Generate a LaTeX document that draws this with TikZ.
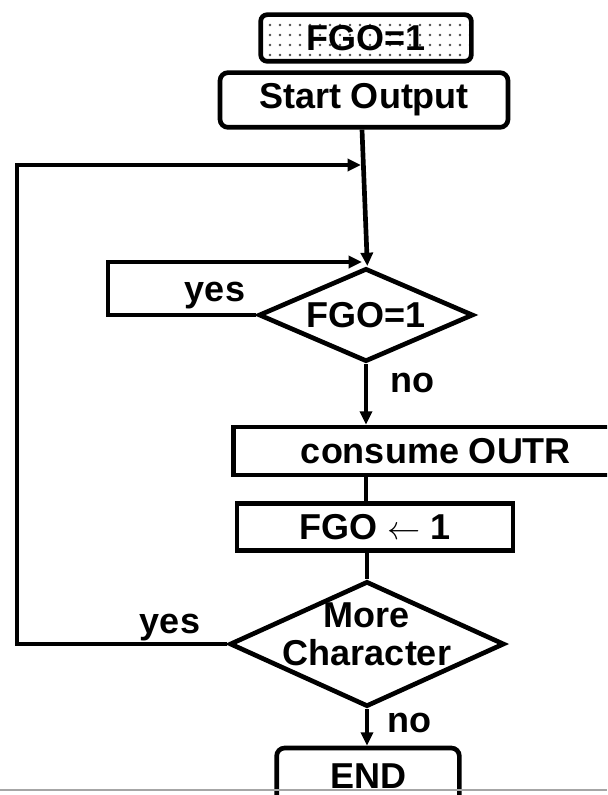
\documentclass[tikz,border=0pt]{standalone}
\usepackage{fontspec}
\setmainfont{Liberation Sans}
\usetikzlibrary{shapes.geometric,arrows.meta,patterns.meta}

\tikzset{
  txt/.style={font=\fontsize{27}{28.5}\selectfont\bfseries},
  base/.style={txt, draw, line width=3.5pt, inner sep=0pt},
  flag/.style={base, rounded corners=5pt, pattern={Dots[distance=7.5pt,radius=1pt]}, pattern color=black!70},
  startstop/.style={base, rounded corners=6pt},
  process/.style={base, rectangle},
  decision/.style={base, diamond, aspect=2.2},
  flow/.style={line width=3.5pt, -{Triangle[length=10pt,width=9pt]}},
  link/.style={line width=3.5pt},
  lbl/.style={txt, inner sep=0pt}
}

\begin{document}
\begin{tikzpicture}[x=0.75pt,y=-0.75pt]
    \useasboundingbox (0,0) rectangle (607,795);
    \clip (0,0) rectangle (607,795);

    % boxes
    \node[flag, minimum width=158pt, minimum height=35pt] (go) at (366,38) {FGO=1};
    \node[startstop, minimum width=216pt, minimum height=41pt] (start) at (364,100) {Start Output};
    \node[decision, minimum width=161pt, minimum height=70pt] (chk) at (366,315) {FGO=1};
    \node[process, minimum width=304pt, minimum height=36pt] (consume) at (436,451) {consume OUTR};
    \node[process, minimum width=207pt, minimum height=35pt] (set) at (375,527) {FGO $\leftarrow$ 1};
    \node[decision, minimum width=206pt, minimum height=94pt] (more) at (367,644) {};
    \node[lbl] (moretxt) at (367,639) {\begin{tabular}{@{}c@{}}More\\Character\end{tabular}};
    \node[startstop, minimum width=137pt, minimum height=42pt] (end) at (368,776) {END};

    % loop corners
    \coordinate (innertl) at (108,262);
    \coordinate (innertip) at (362,262);
    \coordinate (outertl) at (17,165);
    \coordinate (outertip) at (361,165);

    % connectors
    \draw[flow] ([xshift=-1.5pt]start.south) -- ([xshift=1pt]chk.north);
    \draw[flow] (chk.west) -| (innertl) -- (innertip);
    \draw[flow] (chk.south) -- (chk.south |- consume.north);
    \draw[link] (chk.south |- consume.south) -- (chk.south |- set.north);
    \draw[link] (more.north |- set.south) -- (more.north);
    \draw[flow] (more.west) -| (outertl) -- (outertip);
    \draw[flow] (more.south) -- (more.south |- end.north);

    % labels
    \node[lbl] (yesin) at (215,296) {yes};
    \node[lbl] (noin) at (412,383) {no};
    \node[lbl] (yesout) at (170,628) {yes};
    \node[lbl] (noout) at (409,723) {no};

    \draw[gray!70, line width=1.5pt] (0,790) -- (607,790);
\end{tikzpicture}
\end{document}
